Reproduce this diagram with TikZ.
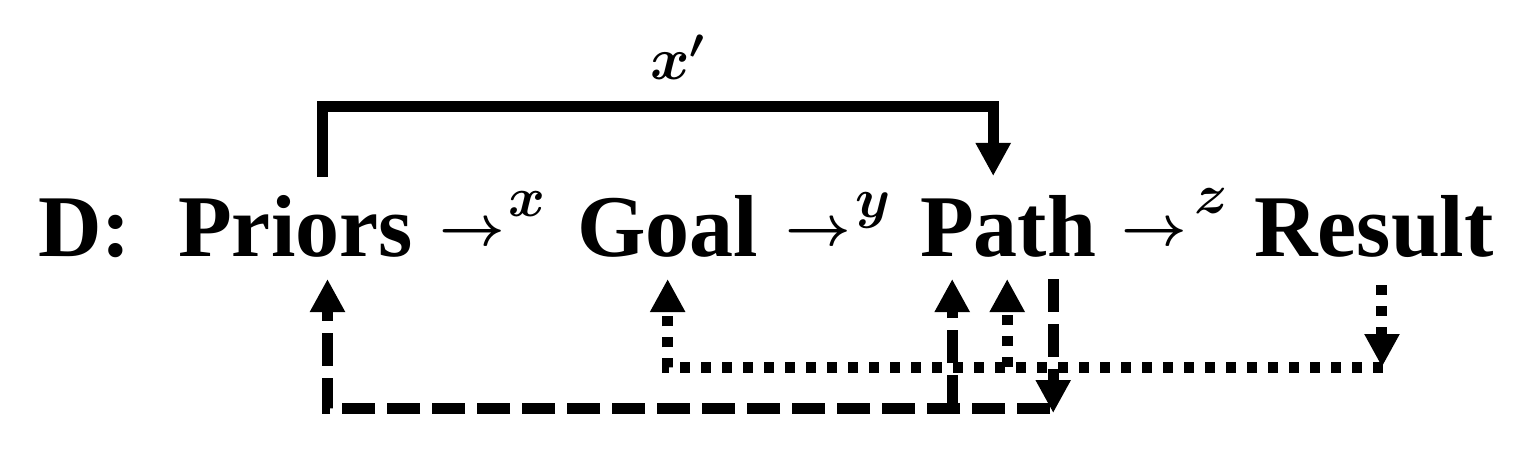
\RequirePackage{fix-cm}
\documentclass[tikz,border=0pt]{standalone}
\usepackage{fontspec}
\setmainfont{Liberation Serif}
\usetikzlibrary{arrows.meta,calc}
\tikzset{
  word/.style={font=\fontsize{88}{96}\selectfont\bfseries, inner sep=0pt, anchor=base west},
  rel/.style={font=\fontsize{57}{62}\selectfont\boldmath, inner sep=0pt, anchor=base west},
  supscript/.style={font=\fontsize{56}{62}\selectfont\boldmath, inner sep=0pt, anchor=base west},
  conn/.style={line width=11pt, -{Triangle[width=33pt,length=33pt]}},
  dashline/.style={dash pattern=on 33pt off 12pt},
  dotline/.style={dash pattern=on 10pt off 11pt},
}
\begin{document}
\begin{tikzpicture}[x=1pt,y=-1pt]
\useasboundingbox (0,0) rectangle (1521,473);
% top label
\node[supscript, font=\fontsize{60}{66}\selectfont\boldmath] (xp) at (650,80) {$x'$};
% main line
\node[word] (D) at (38,256) {D:};
\node[word] (priors) at (178,256) {Priors};
\node[rel] (r1) at (439,246) {$\rightarrow$};
\node[supscript] (sx) at (508,217) {$x$};
\node[word] (goal) at (577,256) {Goal};
\node[rel] (r2) at (785,246) {$\rightarrow$};
\node[supscript] (sy) at (855,218) {$y$};
\node[word] (path) at (920,256) {Path};
\node[rel] (r3) at (1121,246) {$\rightarrow$};
\node[supscript] (sz) at (1194,214) {$z$};
\node[word] (result) at (1254,256) {Result};
% anchor points
\coordinate (pTop) at ($(priors.base)+(27,-79)$);
\coordinate (hTop) at ($(path.base)+(-15,-80)$);
\coordinate (pBot) at ($(priors.base)+(32,23)$);
\coordinate (gBot) at ($(goal.base)+(0,23)$);
\coordinate (hBotA) at ($(path.base)+(-56,23)$);
\coordinate (hBotB) at ($(path.base)+(-1,23)$);
\coordinate (hBotC) at ($(path.base)+(45,23)$);
\coordinate (rBot) at ($(result.base)+(8,29)$);
\coordinate (dashY) at (0,408);
\coordinate (dotY) at (0,367);
\coordinate (dashEnd) at (hBotC |- dashY);
\coordinate (dotEnd) at (rBot |- dotY);
% bracket x'
\draw[conn] (pTop) -- ++(0,-70) -| (hTop);
% dashed connectors
\draw[conn, dashline] (hBotC) -- ($(dashEnd)+(0,5)$);
\draw[conn, dashline] ($(dashEnd)+(-3,0)$) -- (pBot |- dashY) -- (pBot);
\draw[conn, dashline] (hBotA |- dashY) -- (hBotA);
% dotted connectors
\draw[conn, dotline] (rBot) -- (dotEnd);
\draw[conn, dotline] ($(dotEnd)+(1,0)$) -- (gBot |- dotY) -- (gBot);
\draw[conn, dotline] (hBotB |- dotY) -- (hBotB);
\end{tikzpicture}
\end{document}
